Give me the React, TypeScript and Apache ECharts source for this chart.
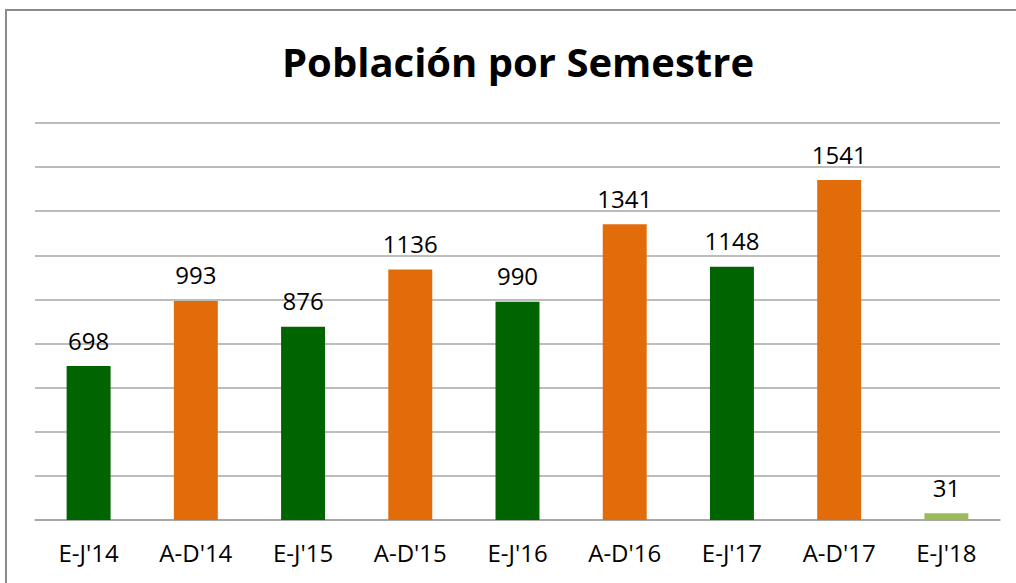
import React, { useEffect, useRef } from "react";
import * as echarts from "echarts";

const categories = ["E-J'14", "A-D'14", "E-J'15", "A-D'15", "E-J'16", "A-D'16", "E-J'17", "A-D'17", "E-J'18"];
const values = [698, 993, 876, 1136, 990, 1341, 1148, 1541, 31];
const barColors = ["#006400", "#E36C0A", "#006400", "#E36C0A", "#006400", "#E36C0A", "#006400", "#E36C0A", "#9BBB59"];
const titleText = "Población por Semestre";

export default function App() {
  const ref = useRef<HTMLDivElement>(null);
  useEffect(() => {
    document.body.style.margin = "0";
    const chart = echarts.init(ref.current!, undefined, { renderer: "svg" });
    const font = "'Open Sans', 'Noto Sans', sans-serif";
    chart.setOption({
      animation: false,
      backgroundColor: "#ffffff",
      title: {
        text: titleText,
        left: 277,
        top: 36,
        textStyle: { fontFamily: font, fontWeight: "bold", fontSize: 40, color: "#000000" },
      },
      graphic: [
        {
          type: "rect",
          shape: { x: 6, y: 10, width: 1040, height: 620 },
          style: { fill: "none", stroke: "#8c8c8c", lineWidth: 2 },
          silent: true,
          z: 100,
        },
      ],
      grid: { left: 35, right: 16, top: 123, bottom: 63 },
      xAxis: {
        type: "category",
        data: categories,
        axisLine: { show: true, lineStyle: { color: "#a0a0a0", width: 1.5 } },
        axisTick: { show: false },
        axisLabel: { fontFamily: font, fontSize: 24, color: "#000000", margin: 20 },
      },
      yAxis: {
        type: "value",
        min: 0,
        max: 1800,
        interval: 200,
        axisLabel: { show: false },
        axisLine: { show: false },
        axisTick: { show: false },
        splitLine: { lineStyle: { color: "#a6a6a6", width: 1.5 } },
      },
      series: [
        {
          type: "bar",
          barWidth: "41%",
          data: values.map((v, i) => ({ value: v, itemStyle: { color: barColors[i] } })),
          label: {
            show: true,
            position: "top",
            distance: 14,
            fontFamily: font,
            fontSize: 24,
            color: "#000000",
          },
        },
      ],
    });
    return () => chart.dispose();
  }, []);
  return <div ref={ref} style={{ width: 1016, height: 583 }} />;
}
